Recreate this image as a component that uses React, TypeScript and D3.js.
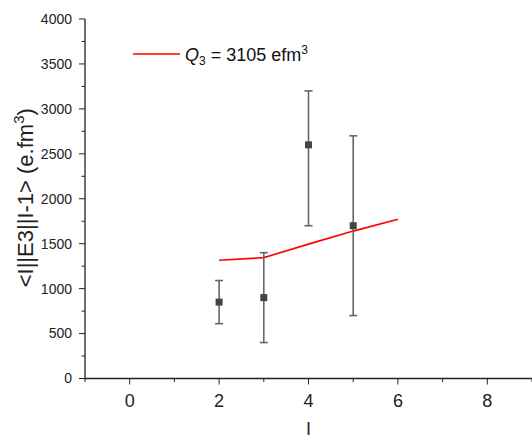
import React from "react";
import * as d3 from "d3";

const W = 532;
const H = 439;

const spins = [2, 3, 4, 5];
const values = [850, 900, 2600, 1700];
const lows = [610, 400, 1700, 700];
const highs = [1090, 1400, 3200, 2700];

const modelSpins = [2, 3, 4, 5, 6];
const modelValues = [1315, 1345, 1495, 1640, 1772];

const xTicks = [0, 2, 4, 6, 8];
const yTicks = [0, 500, 1000, 1500, 2000, 2500, 3000, 3500, 4000];

const FONT = "'Liberation Sans', Arial, sans-serif";

export default function App() {
  const x = d3.scaleLinear().domain([-1, 9]).range([85, 532]);
  const y = d3.scaleLinear().domain([0, 4000]).range([378.5, 19]);

  const line = d3
    .line<number>()
    .x((_, i) => x(modelSpins[i]))
    .y((d) => y(d));

  const xMinor = d3.range(-1, 10, 1).filter((v) => v % 2 !== 0);
  const yMinor = d3.range(250, 4000, 500);

  return (
    <svg
      width={W}
      height={H}
      style={{ position: "absolute", left: 0, top: 0, background: "#fff" }}
      fontFamily={FONT}
    >
      {/* axes */}
      <line x1={x(-1)} x2={x(-1)} y1={y(4000)} y2={y(0)} stroke="#222" strokeWidth={1.3} />
      <line x1={x(-1)} x2={W} y1={y(0)} y2={y(0)} stroke="#222" strokeWidth={1.3} />

      {yTicks.map((t) => (
        <g key={`y${t}`}>
          <line x1={x(-1) - 6} x2={x(-1)} y1={y(t)} y2={y(t)} stroke="#222" />
          <text x={x(-1) - 13} y={y(t)} dy="0.35em" textAnchor="end" fontSize={14} fill="#222">
            {t}
          </text>
        </g>
      ))}
      {yMinor.map((t) => (
        <line key={`ym${t}`} x1={x(-1) - 3.5} x2={x(-1)} y1={y(t)} y2={y(t)} stroke="#222" />
      ))}

      {xTicks.map((t) => (
        <g key={`x${t}`}>
          <line x1={x(t)} x2={x(t)} y1={y(0)} y2={y(0) + 6} stroke="#222" />
          <text x={x(t)} y={y(0) + 28} textAnchor="middle" fontSize={18} fill="#222">
            {t}
          </text>
        </g>
      ))}
      {xMinor.map((t) => (
        <line key={`xm${t}`} x1={x(t)} x2={x(t)} y1={y(0)} y2={y(0) + 3.5} stroke="#222" />
      ))}

      {/* axis titles */}
      <text x={x(4)} y={435} textAnchor="middle" fontSize={18} fill="#222">
        I
      </text>
      <text
        transform={`translate(33 ${y(2000) - 1}) rotate(-90)`}
        textAnchor="middle"
        fontSize={22}
        fill="#222"
      >
        {"<I||E3||I-1> (e.fm"}
        <tspan dy={-9} fontSize={15}>3</tspan>
        <tspan dy={9}>)</tspan>
      </text>

      {/* model line */}
      <path d={line(modelValues) ?? ""} fill="none" stroke="#ff0000" strokeWidth={1.6} />

      {/* data with error bars */}
      {spins.map((s, i) => (
        <g key={`d${s}`} stroke="#666" strokeWidth={1.6}>
          <line x1={x(s)} x2={x(s)} y1={y(lows[i])} y2={y(highs[i])} />
          <line x1={x(s) - 4} x2={x(s) + 4} y1={y(lows[i])} y2={y(lows[i])} />
          <line x1={x(s) - 4} x2={x(s) + 4} y1={y(highs[i])} y2={y(highs[i])} />
          <rect x={x(s) - 3.5} y={y(values[i]) - 3.5} width={7} height={7} fill="#444" stroke="none" />
        </g>
      ))}

      {/* legend */}
      <line x1={133} x2={180} y1={54} y2={54} stroke="#ff0000" strokeWidth={1.6} />
      <text x={185} y={61} fontSize={18} fill="#111">
        <tspan fontStyle="italic">Q</tspan>
        <tspan dy={4} fontSize={12}>3</tspan>
        <tspan dy={-4}>{" = 3105 efm"}</tspan>
        <tspan dy={-7} fontSize={12}>3</tspan>
      </text>
    </svg>
  );
}
